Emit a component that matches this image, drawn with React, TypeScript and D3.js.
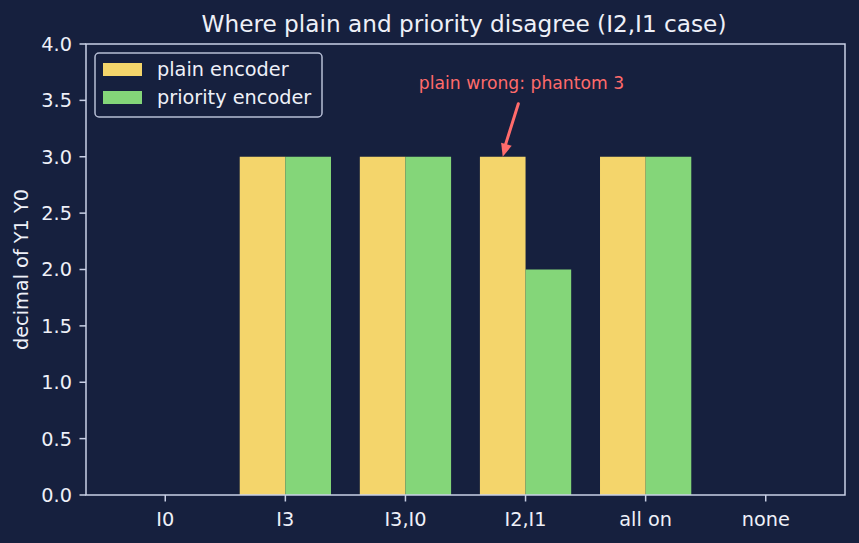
import React from "react";
import * as d3 from "d3";

const categories = ["I0", "I3", "I3,I0", "I2,I1", "all on", "none"];
const plainValues = [0, 3, 3, 3, 3, 0];
const priorityValues = [0, 3, 3, 2, 3, 0];
const yTicks = [0, 0.5, 1, 1.5, 2, 2.5, 3, 3.5, 4];

const W = 859;
const H = 543;
const margin = { top: 44, right: 14, bottom: 48, left: 86 };
const BG = "#16203e";
const FG = "#eef0f8";
const SPINE = "#c9d0e6";
const YELLOW = "#f4d56b";
const GREEN = "#84d679";
const RED = "#ff6b6b";
const font = "DejaVu Sans, sans-serif";
const fs = 19.3;

const App = () => {
  const barW = 0.38;
  const x = d3
    .scaleLinear()
    .domain([-0.66, categories.length - 1 + 0.66])
    .range([margin.left, W - margin.right]);
  const y = d3.scaleLinear().domain([0, 4]).range([H - margin.bottom, margin.top]);
  const px = (v: number) => x(v) - x(0);

  const tipX = x(3 - barW / 2);
  const tipY = y(3);
  const tailX = x(3 - 0.06);
  const tailY = y(3.47);

  return (
    <div style={{ position: "fixed", left: 0, top: 0 }}>
      <svg width={W} height={H} style={{ display: "block", background: BG, fontFamily: font }}>
        <rect width={W} height={H} fill={BG} />
        <text x={464} y={32} textAnchor="middle" fill={FG} fontSize={23.2}>
          Where plain and priority disagree (I2,I1 case)
        </text>

        {/* bars */}
        {categories.map((c, i) => (
          <g key={c}>
            <rect
              x={x(i - barW)}
              y={y(plainValues[i])}
              width={px(barW)}
              height={y(0) - y(plainValues[i])}
              fill={YELLOW}
            />
            <rect
              x={x(i)}
              y={y(priorityValues[i])}
              width={px(barW)}
              height={y(0) - y(priorityValues[i])}
              fill={GREEN}
            />
          </g>
        ))}

        {/* frame */}
        <rect
          x={margin.left}
          y={margin.top}
          width={W - margin.left - margin.right}
          height={H - margin.top - margin.bottom}
          fill="none"
          stroke={SPINE}
          strokeWidth={1.5}
        />

        {/* y axis */}
        {yTicks.map((t) => (
          <g key={t} transform={`translate(${margin.left}, ${y(t)})`}>
            <line x2={-6.5} stroke={SPINE} strokeWidth={1.5} />
            <text x={-14} dy="0.36em" textAnchor="end" fill={FG} fontSize={fs}>
              {t.toFixed(1)}
            </text>
          </g>
        ))}
        <text
          transform={`translate(28, ${(margin.top + H - margin.bottom) / 2}) rotate(-90)`}
          textAnchor="middle"
          fill={FG}
          fontSize={fs}
        >
          decimal of Y1 Y0
        </text>

        {/* x axis */}
        {categories.map((c, i) => (
          <g key={c} transform={`translate(${x(i)}, ${H - margin.bottom})`}>
            <line y2={6.5} stroke={SPINE} strokeWidth={1.5} />
            <text y={31} textAnchor="middle" fill={FG} fontSize={fs}>
              {c}
            </text>
          </g>
        ))}

        {/* annotation */}
        <text x={521.5} y={89} textAnchor="middle" fill={RED} fontSize={17.2}>
          plain wrong: phantom 3
        </text>
        <line x1={tailX} y1={tailY} x2={tipX + 1.5} y2={tipY - 8} stroke={RED} strokeWidth={3} strokeLinecap="round" />
        <path
          d={(() => {
            const dx = tipX - tailX;
            const dy = tipY - tailY;
            const len = Math.hypot(dx, dy);
            const ux = dx / len;
            const uy = dy / len;
            const hl = 13;
            const hw = 5.5;
            const bx = tipX - ux * hl;
            const by = tipY - uy * hl;
            return `M${tipX},${tipY} L${bx - uy * hw},${by + ux * hw} L${bx + uy * hw},${by - ux * hw} Z`;
          })()}
          fill={RED}
        />

        {/* legend */}
        <g transform="translate(95, 53)">
          <rect width={227} height={64} rx={4} fill={BG} stroke={SPINE} strokeWidth={1.5} opacity={0.9} />
          <rect x={8} y={10} width={39} height={13} fill={YELLOW} />
          <text x={62} y={23} fill={FG} fontSize={fs}>
            plain encoder
          </text>
          <rect x={8} y={38} width={39} height={13} fill={GREEN} />
          <text x={62} y={51} fill={FG} fontSize={fs}>
            priority encoder
          </text>
        </g>
      </svg>
    </div>
  );
};

export default App;
